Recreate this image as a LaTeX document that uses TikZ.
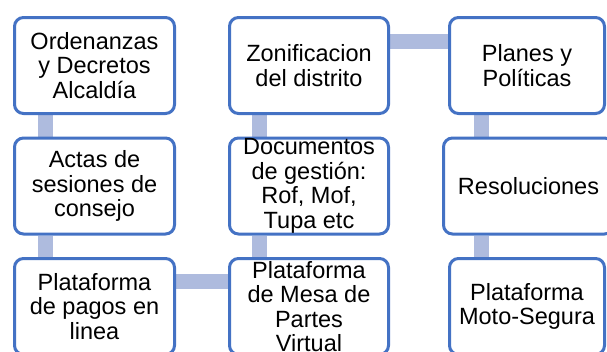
\documentclass[tikz,border=0pt]{standalone}
\usepackage{fontspec}
\setmainfont{Liberation Sans}
\usepackage{tikz}
\usetikzlibrary{backgrounds}
\definecolor{boxblue}{HTML}{4472C4}
\definecolor{linkblue}{HTML}{AEBBDE}
\newcommand{\linkcolor}{linkblue}
\newcommand{\linkwidth}{15pt}
\tikzset{
  box/.style={draw=boxblue, line width=3pt, fill=white, rounded corners=9pt,
    minimum width=160pt, minimum height=96pt, inner sep=0pt, align=center,
    font=\fontsize{23.5}{24.5}\selectfont}
}
\begin{document}
\begin{tikzpicture}[x=1pt,y=-1pt]
\useasboundingbox (0,0) rectangle (607,351);
\node[box] (1) at (94.5, 65.5) {Ordenanzas\\y Decretos\\Alcaldía};
\node[box] (2) at (94.5, 186) {Actas de\\sesiones de\\consejo};
\node[box] (3) at (94.5, 306.5) {Plataforma\\de pagos en\\linea};
\node[box, minimum width=159pt] (4) at (309, 306.5) {Plataforma\\de Mesa de\\Partes\\Virtual};
\node[box, minimum width=159pt] (5) at (309, 186) {Documentos\\de gestión:\\Rof, Mof,\\Tupa etc};
\node[box, minimum width=159pt] (6) at (309, 65.5) {Zonificacion\\del distrito};
\node[box, minimum width=155pt] (7) at (527, 65.5) {Planes y\\Políticas};
\node[box, minimum width=170pt] (8) at (528.5, 186) {Resoluciones};
\node[box, minimum width=155pt] (9) at (527, 306.5) {Plataforma\\Moto-Segura};
%links
\begin{scope}[on background layer]
\draw[\linkcolor] [line width = \linkwidth] ([xshift=32.5pt]1.south west) -- ([xshift=32.5pt]2.north west);
\draw[\linkcolor] [line width = \linkwidth] ([xshift=32.5pt]2.south west) -- ([xshift=32.5pt]3.north west);
\draw[\linkcolor] [line width = \linkwidth] ([yshift=25pt]3.east) -- ([yshift=25pt]4.west);
\draw[\linkcolor] [line width = \linkwidth] ([xshift=31pt]4.north west) -- ([xshift=31pt]5.south west);
\draw[\linkcolor] [line width = \linkwidth] ([xshift=31pt]5.north west) -- ([xshift=31pt]6.south west);
\draw[\linkcolor] [line width = \linkwidth] ([yshift=24.5pt]6.east) -- ([yshift=24.5pt]7.west);
\draw[\linkcolor] [line width = \linkwidth] ([xshift=33.5pt]7.south west) -- ([xshift=33.5pt]7.south west |- 8.north);
\draw[\linkcolor] [line width = \linkwidth] ([xshift=39.5pt]8.south west) -- ([xshift=39.5pt]8.south west |- 9.north);
\end{scope}
\end{tikzpicture}
\end{document}
